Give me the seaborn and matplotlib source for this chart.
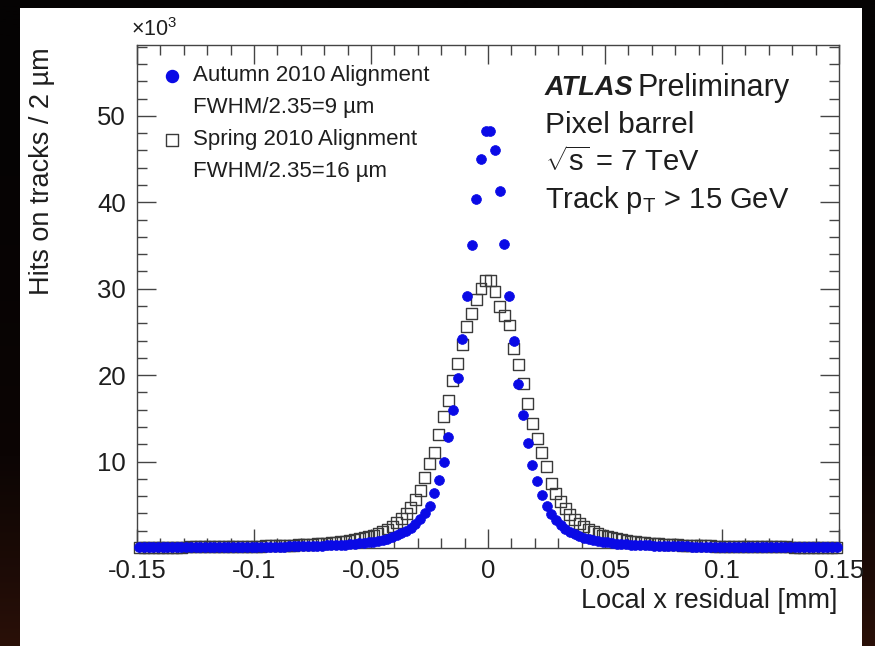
import numpy as np
import pandas as pd
import matplotlib
matplotlib.use("Agg")
import matplotlib.pyplot as plt
from matplotlib.patches import Rectangle
from matplotlib.ticker import MultipleLocator
from matplotlib.colors import LinearSegmentedColormap
import seaborn as sns

sns.set_theme(style="white")
plt.rcParams['font.family'] = ['Liberation Sans', 'DejaVu Sans']
plt.rcParams['mathtext.fontset'] = 'custom'
plt.rcParams['mathtext.rm'] = 'Liberation Sans'
plt.rcParams['mathtext.it'] = 'Liberation Sans:italic'

# ---- data (hits per 2 um bin, in units of 10^3) ----
# bin centres: -0.149 ... 0.149 mm, 2 um wide bins
bin_width = 0.002
x_min, x_max = -0.15, 0.15

# Autumn 2010 alignment, listed from the centre outward
autumn_left = [48.3, 45.0, 40.4, 35.1, 29.2, 24.2, 19.7, 16.0, 12.9, 10.0,
               7.9, 6.4, 4.9, 4.0, 3.3, 2.8, 2.35, 2.0, 1.7, 1.45,
               1.25, 1.08, 0.95, 0.83, 0.74, 0.66, 0.59, 0.53, 0.48, 0.44,
               0.40, 0.37, 0.34, 0.31, 0.29, 0.27, 0.25, 0.24, 0.22, 0.21,
               0.20, 0.19, 0.18, 0.17, 0.16, 0.155, 0.15, 0.14, 0.135, 0.13,
               0.125, 0.12, 0.115, 0.11, 0.105, 0.10, 0.098, 0.095, 0.092, 0.09,
               0.088, 0.085, 0.083, 0.08, 0.078, 0.076, 0.074, 0.072, 0.07, 0.069,
               0.068, 0.066, 0.065, 0.064, 0.063]
autumn_right = [48.2, 46.1, 41.3, 35.2, 29.2, 23.9, 19.0, 15.4, 12.1, 9.6,
                7.7, 6.1, 4.9, 3.9, 3.2, 2.7, 2.25, 1.9, 1.62, 1.4,
                1.2, 1.05, 0.92, 0.81, 0.72, 0.64, 0.57, 0.52, 0.47, 0.43,
                0.39, 0.36, 0.33, 0.31, 0.29, 0.27, 0.25, 0.235, 0.22, 0.21,
                0.20, 0.19, 0.18, 0.17, 0.16, 0.155, 0.15, 0.14, 0.135, 0.13,
                0.125, 0.12, 0.115, 0.11, 0.105, 0.10, 0.098, 0.095, 0.092, 0.09,
                0.088, 0.085, 0.083, 0.08, 0.078, 0.076, 0.074, 0.072, 0.07, 0.069,
                0.068, 0.066, 0.065, 0.064, 0.063]

# Spring 2010 alignment, listed from the centre outward
spring_left = [31.0, 30.0, 28.7, 27.1, 25.6, 23.5, 21.4, 19.4, 17.1, 15.2,
               13.1, 11.0, 9.8, 8.2, 6.7, 5.6, 4.7, 4.0, 3.4, 2.9,
               2.5, 2.2, 1.9, 1.68, 1.5, 1.33, 1.2, 1.08, 0.97, 0.88,
               0.8, 0.73, 0.67, 0.61, 0.56, 0.52, 0.48, 0.44, 0.41, 0.38,
               0.36, 0.34, 0.32, 0.30, 0.28, 0.265, 0.25, 0.24, 0.225, 0.215,
               0.205, 0.195, 0.185, 0.178, 0.17, 0.163, 0.156, 0.15, 0.145, 0.14,
               0.135, 0.13, 0.125, 0.12, 0.116, 0.112, 0.108, 0.105, 0.102, 0.099,
               0.096, 0.093, 0.09, 0.088, 0.086]
spring_right = [31.0, 29.7, 27.9, 26.9, 25.8, 23.1, 21.2, 19.0, 16.7, 14.4,
                12.7, 11.0, 9.4, 7.5, 6.3, 5.4, 4.6, 3.9, 3.35, 2.85,
                2.45, 2.15, 1.88, 1.66, 1.48, 1.32, 1.19, 1.07, 0.96, 0.87,
                0.79, 0.72, 0.66, 0.60, 0.55, 0.51, 0.47, 0.44, 0.41, 0.38,
                0.36, 0.34, 0.32, 0.30, 0.28, 0.265, 0.25, 0.24, 0.225, 0.215,
                0.205, 0.195, 0.185, 0.178, 0.17, 0.163, 0.156, 0.15, 0.145, 0.14,
                0.135, 0.13, 0.125, 0.12, 0.116, 0.112, 0.108, 0.105, 0.102, 0.099,
                0.096, 0.093, 0.09, 0.088, 0.086]

x_ticks = [-0.15, -0.1, -0.05, 0, 0.05, 0.1, 0.15]
x_tick_labels = ["-0.15", "-0.1", "-0.05", "0", "0.05", "0.1", "0.15"]
y_ticks = [10, 20, 30, 40, 50]
y_tick_labels = ["10", "20", "30", "40", "50"]

label_autumn = "Autumn 2010 Alignment"
label_autumn_res = "FWHM/2.35=9 µm"
label_spring = "Spring 2010 Alignment"
label_spring_res = "FWHM/2.35=16 µm"

# ---- build table ----
centres = np.round(np.arange(x_min + bin_width / 2, x_max, bin_width), 4)
autumn = autumn_left[::-1] + autumn_right
spring = spring_left[::-1] + spring_right
df = pd.DataFrame({
    "x": np.concatenate([centres, centres]),
    "hits": autumn + spring,
    "set": ["Autumn"] * len(centres) + ["Spring"] * len(centres),
})

W, H = 875, 646
fig = plt.figure(figsize=(W / 100, H / 100), dpi=100, facecolor="#050303")

def fx(px):
    return px / W

def fy(py):
    return 1 - py / H

# dark margin with a faint warm glow at the lower left
bg = fig.add_axes([0, 0, 1, 1])
bg.set_zorder(-20)
grad = np.linspace(0, 1, 256)[:, None]
cm = LinearSegmentedColormap.from_list("glow", ["#050303", "#0c0504", "#2a1008"])
bg.imshow(grad ** 2, cmap=cm, aspect="auto", extent=[0, 1, 0, 1], origin="upper")
bg.set_xlim(0, 1)
bg.set_ylim(0, 1)
bg.axis("off")
bg.add_patch(Rectangle((fx(20), 0), fx(862) - fx(20), fy(8), facecolor="white",
                       edgecolor="none", zorder=5))

ax = fig.add_axes([fx(137), fy(548), fx(839) - fx(137), fy(45) - fy(548)])
ax.set_facecolor("white")
ax.set_zorder(1)

sns.scatterplot(data=df[df["set"] == "Spring"], x="x", y="hits", ax=ax, marker="s",
                s=62, facecolor="none", edgecolor="#3a3a3a", linewidth=1.0,
                clip_on=False, zorder=3, legend=False)
sns.scatterplot(data=df[df["set"] == "Autumn"], x="x", y="hits", ax=ax, marker="o",
                s=50, color="#0a0ae6", edgecolor="#0a0ae6", linewidth=0.5,
                clip_on=False, zorder=4, legend=False)

ax.set_xlim(x_min, x_max)
ax.set_ylim(0, 58.2)
ax.set_xticks(x_ticks)
ax.set_xticklabels(x_tick_labels)
ax.set_yticks(y_ticks)
ax.set_yticklabels(y_tick_labels)
ax.xaxis.set_minor_locator(MultipleLocator(0.01))
ax.yaxis.set_minor_locator(MultipleLocator(2))
ax.tick_params(which="both", direction="in", top=True, right=True, bottom=True, left=True,
               color="#444444", width=1.0, labelsize=18.5, labelcolor="#1e1e1e")
ax.tick_params(which="major", length=14, pad=8)
ax.tick_params(which="minor", length=7)
for sp in ax.spines.values():
    sp.set_color("#444444")
    sp.set_linewidth(1.0)
ax.set_xlabel("")
ax.set_ylabel("")

tc = "#1e1e1e"
fig.text(fx(42), fy(47), "Hits on tracks / 2 µm", rotation=90, ha="center", va="top",
         fontsize=19.5, color=tc)
fig.text(fx(837), fy(601), "Local x residual [mm]", ha="right", va="center",
         fontsize=19.5, color=tc)
fig.text(fx(131), fy(30), r"$\times$10$^{3}$", ha="left", va="center", fontsize=15.5, color=tc)

# legend and labels in pixel coordinates
ax_leg = fig.add_axes([0, 0, 1, 1], facecolor="none")
ax_leg.set_zorder(2)
ax_leg.set_xlim(0, W)
ax_leg.set_ylim(H, 0)
ax_leg.axis("off")
ax_leg.scatter([172], [76], marker="o", s=75, color="#0a0ae6", zorder=5)
ax_leg.scatter([172], [140], marker="s", s=70, facecolor="none", edgecolor="#3a3a3a",
               linewidth=1.0, zorder=5)
ax_leg.text(193, 76, label_autumn, ha="left", va="center", fontsize=16, color=tc)
ax_leg.text(193, 108, label_autumn_res, ha="left", va="center", fontsize=16, color=tc)
ax_leg.text(193, 140, label_spring, ha="left", va="center", fontsize=16, color=tc)
ax_leg.text(193, 171, label_spring_res, ha="left", va="center", fontsize=16, color=tc)

ax_leg.text(545, 88, "ATLAS", ha="left", va="center", fontsize=19.5, fontweight="bold",
            fontstyle="italic", color=tc)
ax_leg.text(637, 88, "Preliminary", ha="left", va="center", fontsize=22, color=tc)
ax_leg.text(545, 125, "Pixel barrel", ha="left", va="center", fontsize=21.5, color=tc)
ax_leg.text(545, 162, r"$\sqrt{\mathrm{s}}$ = 7 TeV", ha="left", va="center", fontsize=21, color=tc)
ax_leg.text(545, 200, r"Track p$_{\mathrm{T}}$ > 15 GeV", ha="left", va="center", fontsize=21, color=tc)

fig.savefig("out.png", dpi=100, facecolor=fig.get_facecolor())
